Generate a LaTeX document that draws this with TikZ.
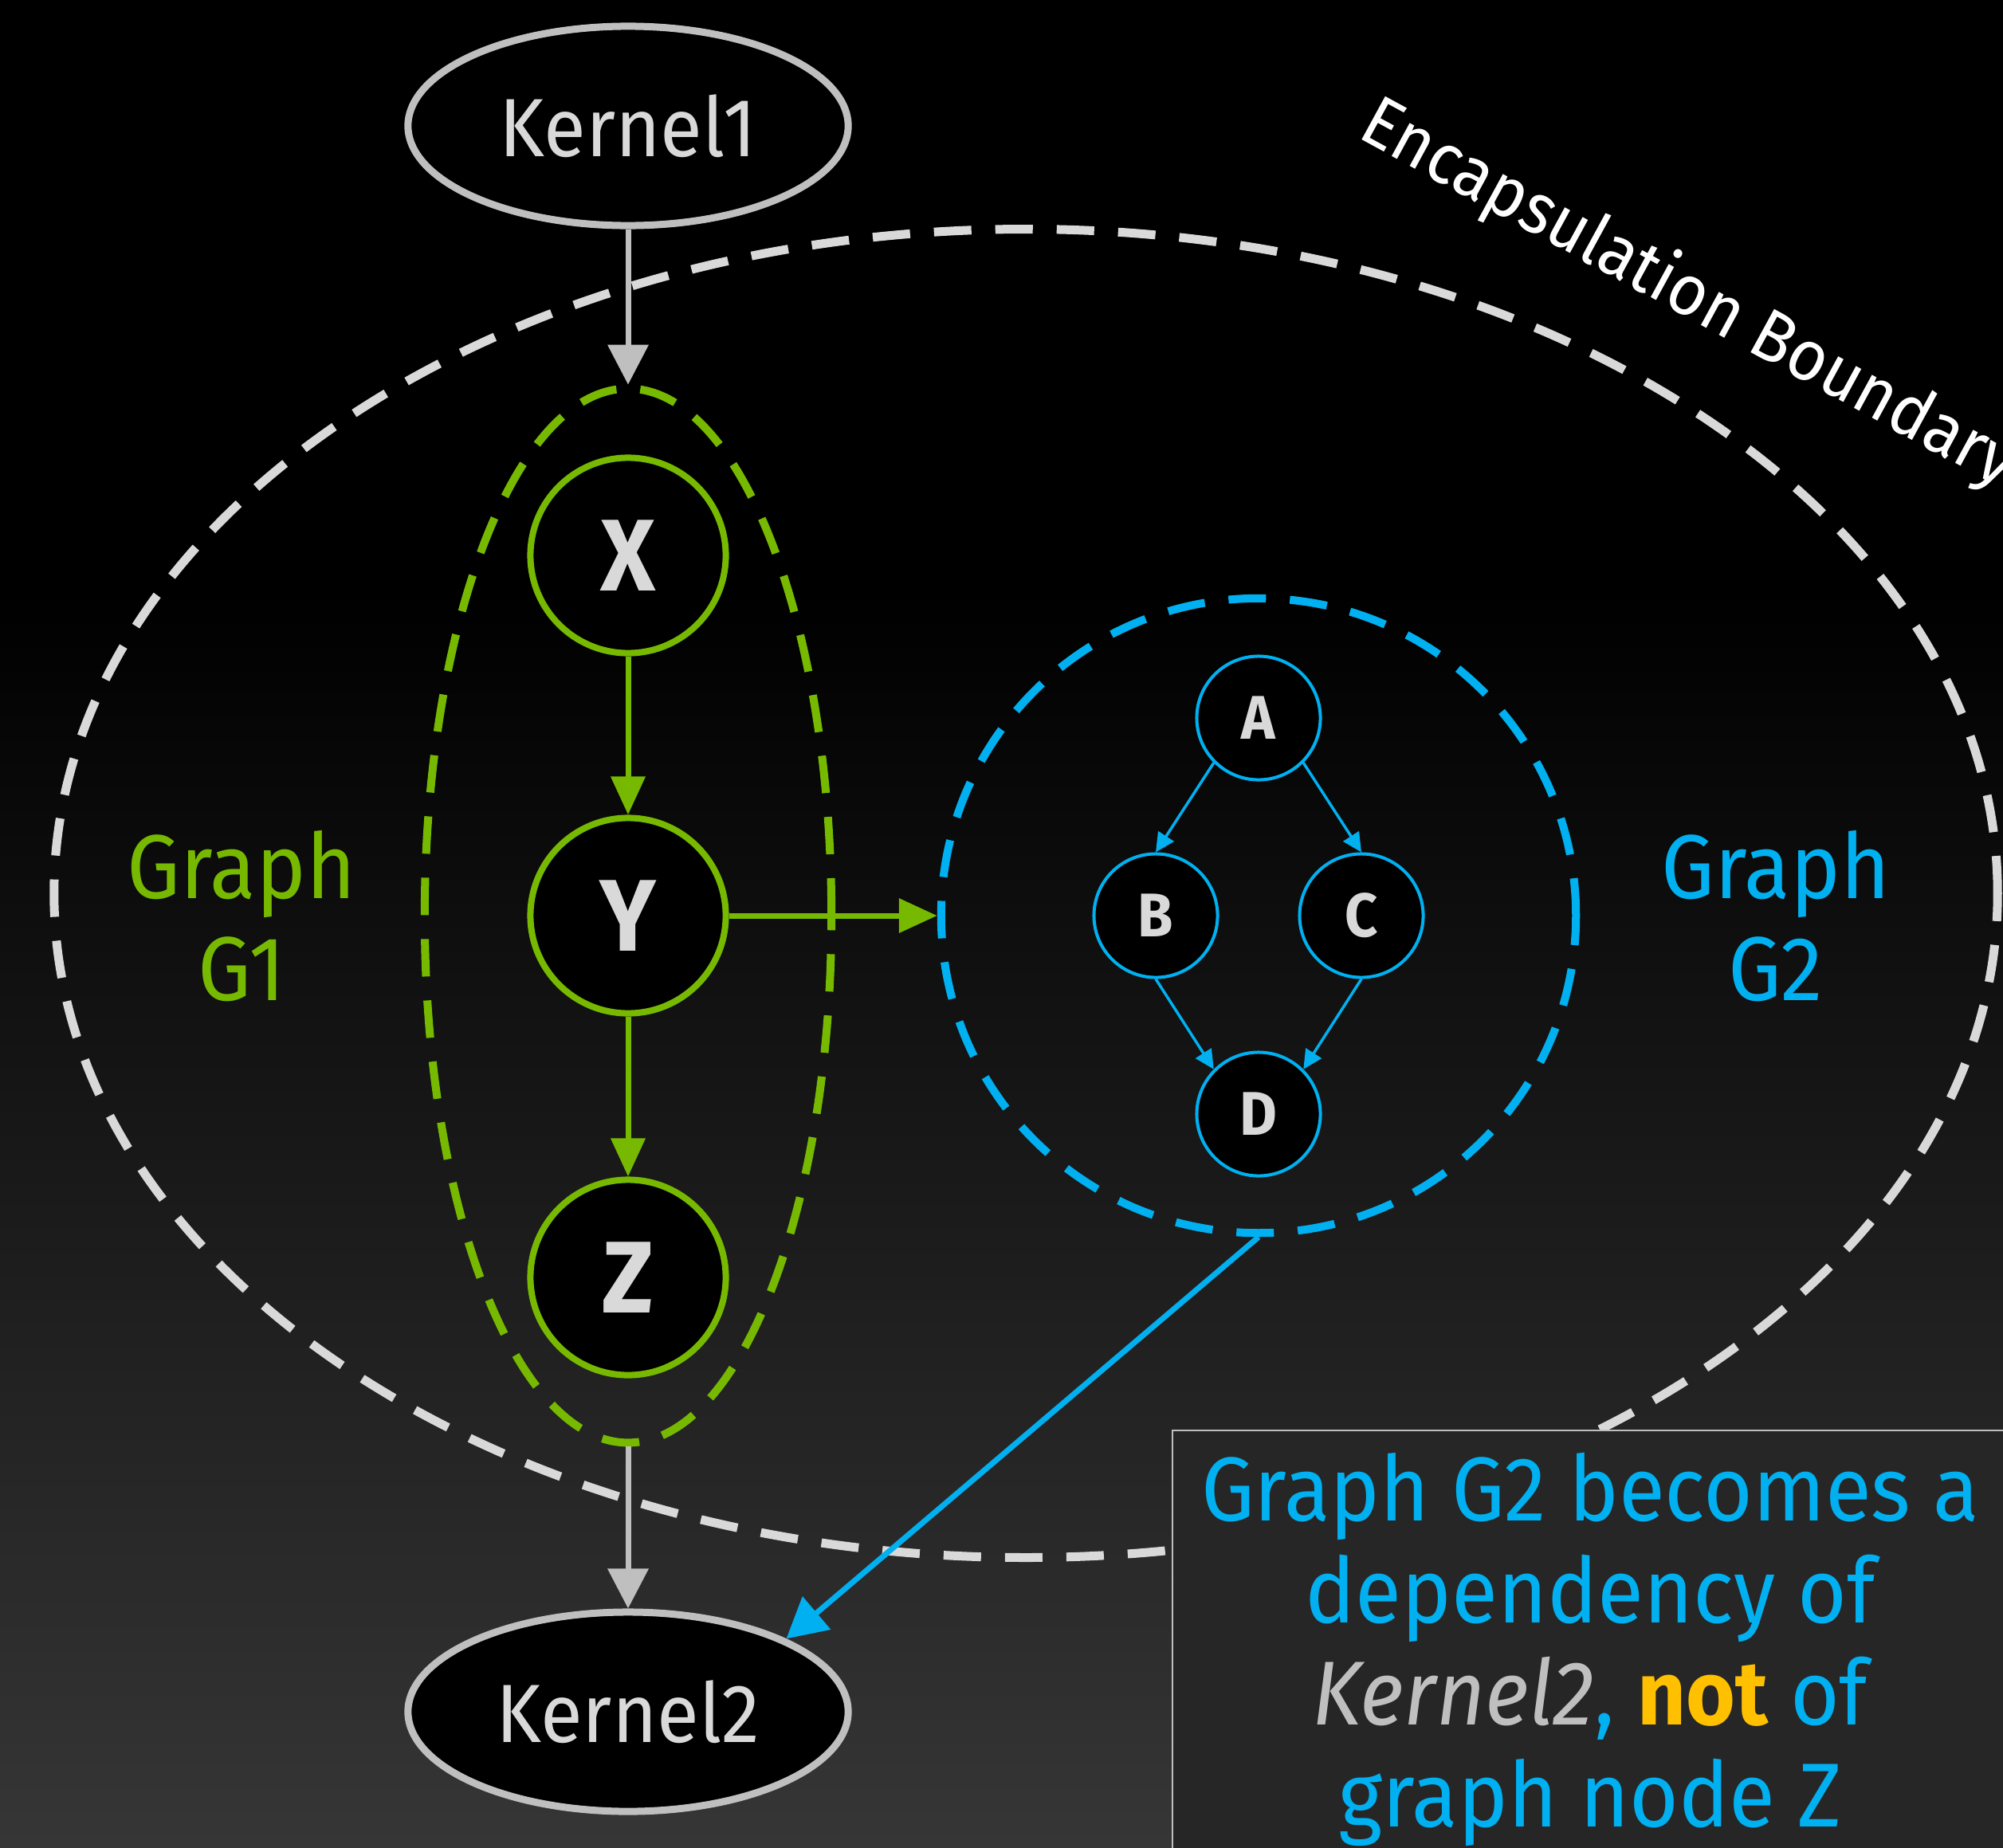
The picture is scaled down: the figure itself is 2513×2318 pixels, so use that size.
\documentclass[tikz,border=0pt]{standalone}
\usepackage{fontspec}
\setmainfont{Fira Sans}[FakeStretch=0.93]
\usetikzlibrary{arrows.meta,shapes.geometric}
\definecolor{nvgreen}{HTML}{76B900}
\definecolor{gtwoblue}{HTML}{00B0F0}
\definecolor{kgray}{HTML}{BFBFBF}
\definecolor{ltext}{HTML}{D9D9D9}
\definecolor{notyellow}{HTML}{FFC000}
\definecolor{boxbg}{HTML}{262626}
\definecolor{bgbottom}{HTML}{363636}
\begin{document}
\begin{tikzpicture}[x=0.01cm,y=-0.01cm,
  lab/.style={font=\fontsize{32.4pt}{36.4pt}\selectfont, align=center, inner sep=0pt},
  kern/.style={ellipse, draw=kgray, line width=0.09cm, fill=black, text=ltext,
    minimum width=5.52cm, minimum height=2.5cm, inner sep=0pt,
    font=\fontsize{29.5pt}{31pt}\selectfont},
  gnode/.style={circle, draw=nvgreen, line width=0.08cm, fill=black, text=ltext,
    minimum size=2.45cm, inner sep=0pt, font=\bfseries\fontsize{36.4pt}{40pt}\selectfont},
  bnode/.style={circle, draw=gtwoblue, line width=0.04cm, fill=black, text=ltext,
    minimum size=1.55cm, inner sep=0pt, font=\bfseries\fontsize{22pt}{24pt}\selectfont},
  dashb/.style={dash pattern=on 0.47cm off 0.30cm},
  grayarrow/.style={draw=kgray, line width=0.07cm, -{Triangle[length=0.5cm,width=0.5cm]}},
  greenarrow/.style={draw=nvgreen, line width=0.07cm, -{Triangle[length=0.48cm,width=0.42cm]}},
  smallarrow/.style={draw=gtwoblue, line width=0.035cm, -{Triangle[length=0.24cm,width=0.23cm]}},
  bigarrow/.style={draw=gtwoblue, line width=0.07cm, -{Triangle[length=0.5cm,width=0.53cm]}}
]
\useasboundingbox (0,0) rectangle (2513,2318);
% background
\fill[black] (0,0) rectangle (2513,740);
\shade[top color=black, bottom color=bgbottom] (0,739) rectangle (2513,2318);

% graph G1 boundary
\node[ellipse, draw=nvgreen, line width=0.1cm, dashb, minimum width=5.10cm, minimum height=13.22cm, inner sep=0pt] (g1) at (788,1149) {};
% graph G2 boundary
\node[circle, draw=gtwoblue, line width=0.1cm, dashb, minimum size=7.96cm, inner sep=0pt] (g2) at (1579,1149) {};

% kernels
\node[kern] (k1) at (788,158) {Kernel1};
\node[kern] (k2) at (788,2148) {Kernel2};

% G1 nodes
\node[gnode] (x) at (788,697) {X};
\node[gnode] (y) at (788,1149) {Y};
\node[gnode] (z) at (788,1603) {Z};

% G2 nodes
\node[bnode] (a) at (1579,901) {A};
\node[bnode] (b) at (1450,1149) {B};
\node[bnode] (c) at (1708,1149) {C};
\node[bnode] (d) at (1579,1398) {D};

% connectors
\draw[grayarrow] (k1.south) -- (g1.north);
\draw[grayarrow] (g1.south) -- (k2.north);
\draw[greenarrow] (x.south) -- (y.north);
\draw[greenarrow] (y.south) -- (z.north);
\draw[greenarrow] (y.east) -- (g2.west);
\draw[smallarrow] (a.south west) -- (b.north);
\draw[smallarrow] (a.south east) -- (c.north);
\draw[smallarrow] (b.south) -- (d.north west);
\draw[smallarrow] (c.south) -- (d.north east);

% encapsulation boundary
\node[ellipse, draw=ltext, line width=0.11cm, dashb, minimum width=24.37cm, minimum height=16.66cm, inner sep=0pt] (enc) at (1287,1121) {};
\node[text=white, rotate=-28.6, inner sep=0pt, font=\fontsize{25.5pt}{28pt}\selectfont] (enclab) at (2118,370) {Encapsulation Boundary};

\draw[bigarrow] (g2.south) -- (k2.north east);

% labels
\node[lab, text=nvgreen, anchor=base] (lgone) at (303,1255) {Graph\\G1};
\node[lab, text=gtwoblue, anchor=base] (lgtwo) at (2228,1255) {Graph\\G2};

% note box
\node[draw=kgray, line width=0.015cm, fill=boxbg, anchor=north west, minimum width=10.6cm, minimum height=5.6cm, inner sep=0pt] (box) at (1470,1794) {};
\node[lab, text=gtwoblue, anchor=base] (note) at (1995,2292)
  {Graph G2 becomes a\\dependency of\\\textcolor{kgray}{\itshape Kernel2}, \textcolor{notyellow}{\bfseries not} of\\graph node Z};
\end{tikzpicture}
\end{document}
